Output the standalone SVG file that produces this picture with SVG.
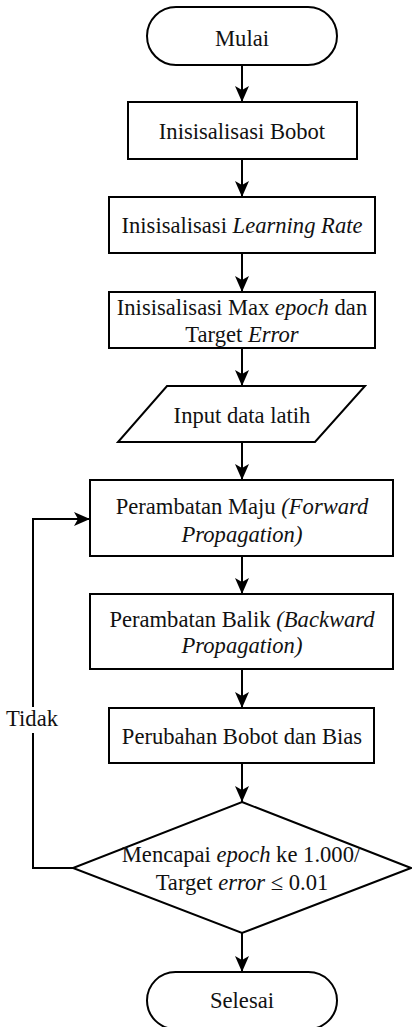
<svg xmlns="http://www.w3.org/2000/svg" width="412" height="1027" viewBox="0 0 412 1027">
<style>
.s{fill:#fff;stroke:#000;stroke-width:2}
.t{font-family:'Liberation Serif','Times New Roman','DejaVu Serif',serif;font-size:22.6px;fill:#111;text-anchor:middle}
.i{font-style:italic}
.c{fill:none;stroke:#000;stroke-width:2}
</style>
<defs>
<marker id="a" markerUnits="userSpaceOnUse" markerWidth="16" markerHeight="14" refX="16" refY="7" orient="auto">
<path d="M0,0 L16,7 L0,14 L4,7 Z" fill="#000"/>
</marker>
</defs>
<rect width="412" height="1027" fill="#fff"/>
<g id="connectors">
<line class="c" x1="242" y1="65" x2="242" y2="102" marker-end="url(#a)"/>
<line class="c" x1="242" y1="159" x2="242" y2="197" marker-end="url(#a)"/>
<line class="c" x1="242" y1="253" x2="242" y2="292" marker-end="url(#a)"/>
<line class="c" x1="242" y1="348" x2="242" y2="386" marker-end="url(#a)"/>
<line class="c" x1="242" y1="442" x2="242" y2="480" marker-end="url(#a)"/>
<line class="c" x1="242" y1="556" x2="242" y2="594" marker-end="url(#a)"/>
<line class="c" x1="242" y1="669" x2="242" y2="708" marker-end="url(#a)"/>
<line class="c" x1="242" y1="763" x2="242" y2="802" marker-end="url(#a)"/>
<line class="c" x1="242" y1="933" x2="242" y2="972" marker-end="url(#a)"/>
<polyline class="c" points="73,868 33,868 33,733"/>
<polyline class="c" points="33,707 33,519 90,519" marker-end="url(#a)"/>
<text class="t" x="32" y="726">Tidak</text>
</g>
<g id="mulai">
<rect class="s" x="147" y="7" width="190" height="58" rx="29"/>
<text class="t" x="242" y="46">Mulai</text>
</g>
<g id="bobot">
<rect class="s" x="128" y="102" width="229" height="57"/>
<text class="t" x="242" y="139">Inisisalisasi Bobot</text>
</g>
<g id="lr">
<rect class="s" x="109" y="197" width="266" height="56"/>
<text class="t" x="242" y="233">Inisisalisasi <tspan class="i">Learning Rate</tspan></text>
</g>
<g id="maxepoch">
<rect class="s" x="109" y="292" width="266" height="56"/>
<text class="t" x="242" y="315">Inisisalisasi Max <tspan class="i">epoch</tspan> dan</text>
<text class="t" x="242" y="342">Target <tspan class="i">Error</tspan></text>
</g>
<g id="input">
<polygon class="s" points="167,386 365,386 315,442 118,442"/>
<text class="t" x="242" y="423">Input data latih</text>
</g>
<g id="maju">
<rect class="s" x="90" y="480" width="303" height="76"/>
<text class="t" x="242" y="514">Perambatan Maju <tspan class="i">(Forward</tspan></text>
<text class="t i" x="242" y="542">Propagation)</text>
</g>
<g id="balik">
<rect class="s" x="90" y="594" width="303" height="75"/>
<text class="t" x="242" y="627">Perambatan Balik <tspan class="i">(Backward</tspan></text>
<text class="t i" x="242" y="653">Propagation)</text>
</g>
<g id="perubahan">
<rect class="s" x="109" y="708" width="265" height="55"/>
<text class="t" x="242" y="744">Perubahan Bobot dan Bias</text>
</g>
<g id="decision">
<polygon class="s" points="242,802 411,868 242,933 73,868"/>
<text class="t" x="241" y="862">Mencapai <tspan class="i">epoch</tspan> ke 1.000/</text>
<text class="t" x="242" y="890">Target <tspan class="i">error</tspan> ≤ 0.01</text>
</g>
<g id="selesai">
<rect class="s" x="147" y="972" width="190" height="57" rx="28.5"/>
<text class="t" x="242" y="1008">Selesai</text>
</g>
</svg>
